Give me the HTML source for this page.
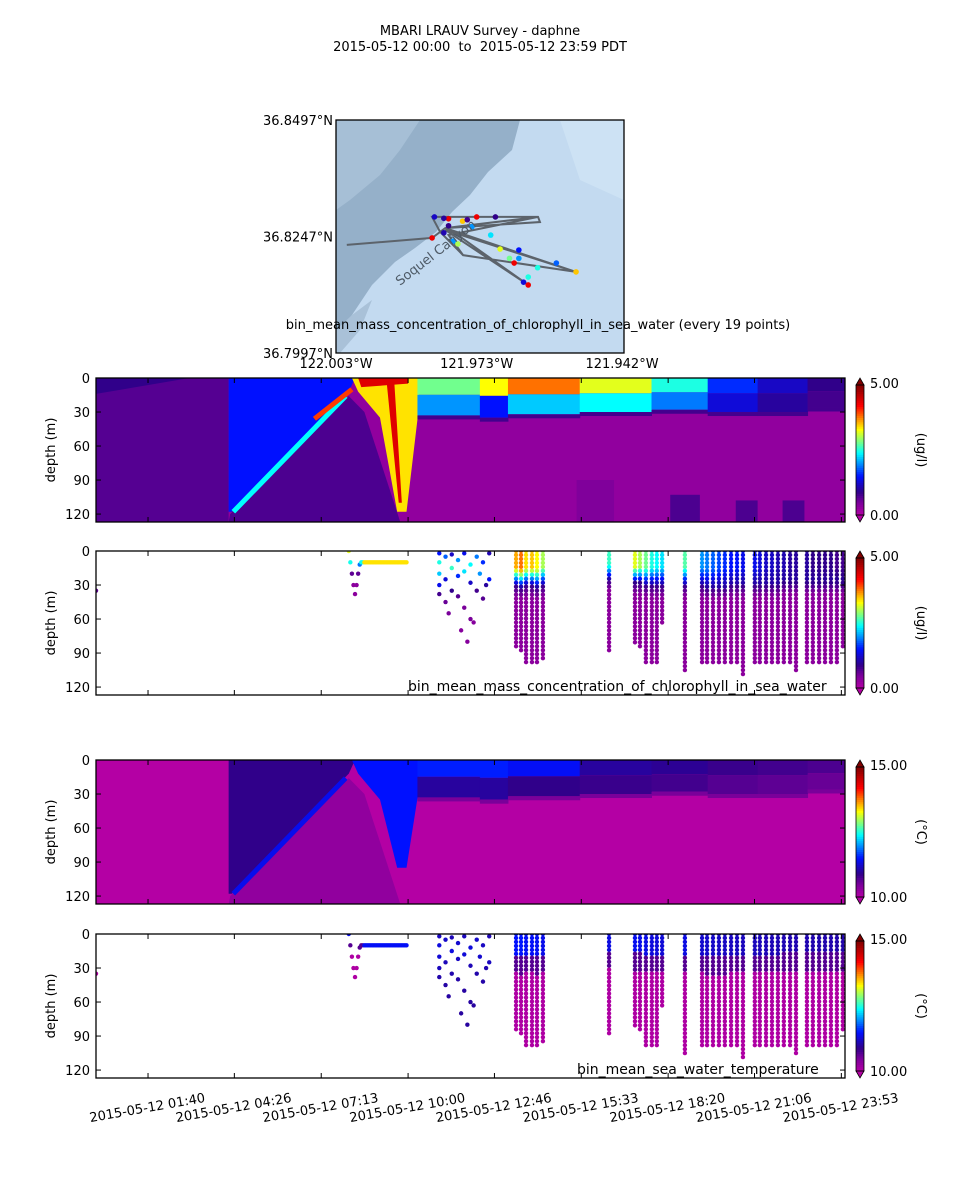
<!DOCTYPE html>
<html><head><meta charset="utf-8">
<style>
html,body{margin:0;padding:0;background:#fff;}
svg{display:block;font-family:"DejaVu Sans","Liberation Sans",sans-serif;}
</style></head>
<body>
<svg id="fig" width="960" height="1200" viewBox="0 0 960 1200" xmlns="http://www.w3.org/2000/svg">
<rect width="960" height="1200" fill="#fff"/>
<text x="480" y="35" font-size="13" text-anchor="middle">MBARI LRAUV Survey - daphne</text>
<text x="480" y="51" font-size="13" text-anchor="middle" style="white-space:pre">2015-05-12 00:00  to  2015-05-12 23:59 PDT</text>
<g id="map"></g>
<g id="p1"></g>
<g id="p2"></g>
<g id="p3"></g>
<g id="p4"></g>
<g id="xax"></g>
</svg>
<script>
// ---------- data ----------
const tickHours = [1.667, 4.433, 7.217, 10.0, 12.767, 15.55, 18.333, 21.1, 23.883];
const tickLabels = ["2015-05-12 01:40","2015-05-12 04:26","2015-05-12 07:13","2015-05-12 10:00","2015-05-12 12:46","2015-05-12 15:33","2015-05-12 18:20","2015-05-12 21:06","2015-05-12 23:53"];
const depthTicks = [0,30,60,90,120];
const profileHours = [13.46,13.62,13.78,13.97,14.13,14.32,16.44,17.27,17.43,17.62,17.81,17.97,18.14,18.87,19.42,19.58,19.77,19.96,20.15,20.35,20.54,20.73,21.11,21.27,21.47,21.66,21.85,22.04,22.24,22.43,22.78,22.97,23.17,23.36,23.55,23.74,23.93];
const profileMaxDepth = [85,90,100,100,100,97,89,82,85,100,100,100,65,108,100,100,100,100,100,100,100,110,100,100,100,100,100,100,100,108,100,100,100,100,100,100,85];
const profileSurfChl = [3.6,3.8,3.4,3.5,3.3,3.0,2.6,3.2,3.0,2.8,2.5,2.4,2.3,2.7,2.0,1.9,1.8,1.7,1.6,1.5,1.5,1.4,1.4,1.3,1.2,1.2,1.1,1.1,1.0,1.0,1.0,0.9,0.9,0.9,0.9,0.8,0.8];
const profileMld = [30,32,30,30,32,30,25,28,28,30,30,30,30,30,30,32,32,32,32,30,30,30,30,30,30,30,30,28,28,28,28,28,28,28,28,28,28];
const scatHours = [11.0,11.0,11.0,11.0,11.0,11.2,11.2,11.2,11.4,11.4,11.4,11.6,11.6,11.6,11.8,11.8,11.8,12.0,12.0,12.0,12.2,12.2,12.4,12.4,12.6,12.6,11.3,11.7,12.1,12.5,12.3,11.9];
const scatDepth = [2,10,20,30,38,5,25,45,3,15,35,8,22,40,2,18,50,12,28,60,5,35,10,42,2,25,55,70,63,30,20,80];
const scatChl = [1.5,2.5,2.2,1.4,0.8,1.8,1.3,0.6,1.2,2.6,0.9,2.0,1.6,0.7,1.4,2.3,0.5,2.4,1.2,0.5,1.9,0.8,1.6,0.7,1.1,1.5,0.5,0.4,0.4,1.0,2.0,0.4];
const yoyoHours = [8.1,8.15,8.2,8.25,8.3,8.35,8.4,8.45,8.5,8.55];
const yoyoDepth = [0,10,20,30,38,30,20,12,10,10];
// contour segments after 10.3 h
const segStart = [10.3,12.3,13.2,15.5,17.8,19.6,21.2,22.8];
const segEnd   = [12.3,13.2,15.5,17.8,19.6,21.2,22.8,24.0];
const segMld   = [33,35,32,30,28,30,30,26];
const segTopChl= [2.8,3.3,3.8,3.2,2.5,1.6,1.2,0.9];
const segMidChl= [2.0,1.5,2.2,2.4,1.9,1.3,1.0,0.8];
const segTopT  = [11.55,11.55,11.45,11.0,10.95,10.85,10.8,10.75];
const segMidT  = [11.0,11.0,10.9,10.85,10.8,10.7,10.65,10.6];
const blockStart = [15.4,18.4,20.5,22.0];
const blockEnd   = [16.6,19.35,21.2,22.7];
const blockTop   = [90,103,108,108];
const blockChl   = [0.45,0.75,0.75,0.75];
// map
const trackLon = [-122.0007,-121.9825,-121.9797,-121.9599,-121.9595,-121.9797,-121.9518,-121.9780,-121.9620,-121.9797,-121.9518,-121.9759,-121.9808,-121.9825,-121.9599,-121.9790,-121.9759,-121.9518];
const trackLat = [36.8229,36.8244,36.8265,36.8289,36.8278,36.8265,36.8171,36.8257,36.8143,36.8261,36.8171,36.8207,36.8257,36.8289,36.8289,36.8250,36.8207,36.8171];
const dotLon = [-121.9825,-121.9790,-121.9760,-121.9740,-121.9700,-121.9680,-121.9640,-121.9620,-121.9780,-121.9770,-121.9730,-121.9690,-121.9660,-121.9650,-121.9640,-121.9600,-121.9560,-121.9518,-121.9630,-121.9620,-121.9800,-121.9790,-121.9800,-121.9750,-121.9820];
const dotLat = [36.8244,36.8285,36.8280,36.8268,36.8250,36.8220,36.8200,36.8160,36.8237,36.8231,36.8289,36.8289,36.8200,36.8190,36.8218,36.8180,36.8190,36.8171,36.8149,36.8143,36.8255,36.8270,36.8286,36.8283,36.8289];
const dotChl = [4.3,4.3,3.5,2.0,2.3,3.2,2.0,2.5,2.0,3.0,4.3,0.9,2.8,4.3,1.5,2.5,1.8,3.5,1.3,4.3,1.1,0.9,1.0,0.8,1.2];

// ---------- helpers ----------
const NS="http://www.w3.org/2000/svg";
function mk(parent,tag,attrs,txt){const e=document.createElementNS(NS,tag);for(const k in attrs)e.setAttribute(k,attrs[k]);if(txt!==undefined)e.textContent=txt;parent.appendChild(e);return e;}
const stops=[[0,[180,0,164]],[0.1,[122,0,154]],[0.18,[48,0,138]],[0.3,[0,16,255]],[0.48,[0,255,255]],[0.66,[255,255,0]],[0.84,[255,0,0]],[1,[128,0,0]]];
function cmap(t){t=Math.max(0,Math.min(1,t));for(let i=1;i<stops.length;i++){if(t<=stops[i][0]){const a=stops[i-1],b=stops[i];const f=(t-a[0])/(b[0]-a[0]);const c=a[1].map((v,j)=>Math.round(v+(b[1][j]-v)*f));return `rgb(${c[0]},${c[1]},${c[2]})`;}}return "rgb(128,0,0)";}
const cChl=v=>cmap(v/5), cT=v=>cmap((v-10)/5);
const X0=96,X1=845;
const xs=h=>X0+h/24*(X1-X0);
const PH=144, DMAX=127;
function ysF(y0){return d=>y0+d/DMAX*PH;}

function axesFrame(g,y0,unit,lo,hi){
  const ys=ysF(y0);
  depthTicks.forEach(d=>{
    const t=mk(g,'line',{x1:X0,x2:X0+5,y1:ys(d),y2:ys(d),stroke:'#000'});
    
    mk(g,'line',{x1:X1-5,x2:X1,y1:ys(d),y2:ys(d),stroke:'#000'});
    const l=mk(g,'text',{x:X0-6,y:ys(d)+5,'font-size':13,'text-anchor':'end'},String(d));
    
  });
  tickHours.forEach(h=>{mk(g,'line',{x1:xs(h),x2:xs(h),y1:y0,y2:y0+5,stroke:'#000'});mk(g,'line',{x1:xs(h),x2:xs(h),y1:y0+PH-5,y2:y0+PH,stroke:'#000'});});
  const f=mk(g,'rect',{x:X0,y:y0,width:X1-X0,height:PH,fill:'none',stroke:'#000','stroke-width':1.3});
  
  const yl=mk(g,'text',{x:0,y:0,'font-size':13,'text-anchor':'middle',transform:`translate(55,${y0+PH/2}) rotate(-90)`},'depth (m)');
  
  const cb=mk(g,'g',{});
  
  const cx=856,cw=8,top=y0+7,bot=y0+PH-7;
  for(let i=0;i<60;i++){const t0=i/60;mk(cb,'rect',{x:cx,y:bot-(i+1)/60*(bot-top),width:cw,height:(bot-top)/60+0.5,fill:cmap(t0+0.5/60)});}
  mk(cb,'polygon',{points:`${cx},${top} ${cx+cw},${top} ${cx+cw/2},${y0}`,fill:cmap(1),stroke:'#000','stroke-width':0.8});
  mk(cb,'polygon',{points:`${cx},${bot} ${cx+cw},${bot} ${cx+cw/2},${y0+PH}`,fill:cmap(0),stroke:'#000','stroke-width':0.8});
  mk(cb,'rect',{x:cx,y:top,width:cw,height:bot-top,fill:'none',stroke:'#000','stroke-width':0.8});
  mk(cb,'text',{x:870,y:y0+10,'font-size':13},hi);
  mk(cb,'text',{x:870,y:y0+PH-2,'font-size':13},lo);
  mk(cb,'text',{x:0,y:0,'font-size':13,'text-anchor':'middle',transform:`translate(917,${y0+PH/2}) rotate(90)`},unit);
}
function poly(g,ptsHD,ys,fill){return mk(g,'polygon',{points:ptsHD.map(p=>xs(p[0])+','+ys(p[1])).join(' '),fill:fill});}

// ---------- contour panels ----------
function contour(gid,y0,col,vals){
  const g=document.getElementById(gid);const ys=ysF(y0);
  const cl=mk(g,'clipPath',{id:gid+'c'});mk(cl,'rect',{x:X0,y:y0,width:X1-X0,height:PH});
  const c=mk(g,'g',{'clip-path':`url(#${gid}c)`});
  mk(c,'rect',{x:X0,y:y0,width:X1-X0,height:PH,fill:col(vals.bg)});
  poly(c,[[0,0],[4.25,0],[4.25,127],[0,127]],ys,col(vals.left));
  if(vals.leftTop!==undefined) poly(c,[[0,0],[3,0],[0,14]],ys,col(vals.leftTop));
  poly(c,[[4.25,127],[4.3,120],[8.1,16],[8.6,30],[9.75,127]],ys,col(vals.under));
  poly(c,[[4.25,0],[8.3,0],[8.1,12],[4.35,118],[4.25,118]],ys,col(vals.wedge));
  mk(c,'line',{x1:xs(4.4),y1:ys(118),x2:xs(8.0),y2:ys(16),stroke:col(vals.diag),'stroke-width':5});
  if(vals.diag2!==undefined) mk(c,'line',{x1:xs(7.0),y1:ys(36),x2:xs(8.2),y2:ys(10),stroke:col(vals.diag2),'stroke-width':5});
  poly(c,[[8.2,0],[10.35,0],[10.35,25],[9.95,vals.vDepth],[9.65,vals.vDepth],[9.1,35],[8.4,12]],ys,col(vals.v));
  if(vals.vStripe!==undefined){
    poly(c,[[9.3,0],[9.55,0],[9.8,110],[9.7,110]],ys,col(vals.vStripe));
    poly(c,[[8.4,0],[10.0,0],[10.0,5],[8.5,8]],ys,col(vals.vStripe));
  }
  segStart.forEach((s,i)=>{
    const e=segEnd[i],m=segMld[i];
    mk(c,'rect',{x:xs(s),y:ys(0),width:xs(e)-xs(s)+0.5,height:ys(m*0.45)-ys(0),fill:col(vals.segTop[i])});
    mk(c,'rect',{x:xs(s),y:ys(m*0.45),width:xs(e)-xs(s)+0.5,height:ys(m)-ys(m*0.45),fill:col(vals.segMid[i])});
    mk(c,'rect',{x:xs(s),y:ys(m),width:xs(e)-xs(s)+0.5,height:4,fill:col(vals.band)});
  });
  if(vals.blocks) blockStart.forEach((s,i)=>{
    const r=mk(c,'rect',{x:xs(s),y:ys(blockTop[i]),width:xs(blockEnd[i])-xs(s),height:ys(127)-ys(blockTop[i]),fill:col(blockChl[i])});
    
  });
  return g;
}
const g1=contour('p1',378,cChl,{bg:0.3,left:0.7,leftTop:0.9,under:0.75,wedge:1.5,diag:2.4,diag2:4.0,v:3.4,vStripe:4.4,vDepth:118,segTop:segTopChl,segMid:segMidChl,band:0.8,blocks:true});
axesFrame(g1,378,'(ug/l)','0.00','5.00');
const g3=contour('p3',760,cT,{bg:10.0,left:10.0,under:10.3,wedge:10.9,diag:11.4,v:11.5,vDepth:95,segTop:segTopT,segMid:segMidT,band:10.5,blocks:false});
axesFrame(g3,760,'(\u00B0C)','10.00','15.00');

// ---------- profile panels ----------
function profiles(gid,y0,colOf,label,lx){
  const g=document.getElementById(gid);const ys=ysF(y0);
  const cl=mk(g,'clipPath',{id:gid+'c'});mk(cl,'rect',{x:X0,y:y0,width:X1-X0,height:PH});
  const c=mk(g,'g',{'clip-path':`url(#${gid}c)`});
  function dot(h,d,col){const e=mk(c,'circle',{cx:xs(h),cy:ys(d),r:2.2,fill:col});}
  dot(0,35,colOf(0.5,35,30));
  yoyoHours.forEach((h,i)=>dot(h,yoyoDepth[i],colOf(yoyoDepth[i]<15?3.2:1.0,yoyoDepth[i],15)));
  for(let h=8.6;h<=10.0;h+=0.05) dot(h,10,colOf(3.4,10,30));
  scatHours.forEach((h,i)=>dot(h,scatDepth[i],colOf(scatChl[i],0,30)));
  profileHours.forEach((h,i)=>{
    for(let d=0;d<=profileMaxDepth[i];d+=3.5){dot(h,d,colOf(profileSurfChl[i],d,profileMld[i]));}
  });
  axesFrame(g,y0,gid==='p2'?'(ug/l)':'(\u00B0C)',gid==='p2'?'0.00':'10.00',gid==='p2'?'5.00':'15.00');
  const t=mk(g,'text',{x:lx,y:y0+PH-4,'font-size':14},label);
  
}
profiles('p2',551,(s,d,m)=>{let v=d<m*0.5?s:d<m?s-(s-1.0)*(d-m*0.5)/(m*0.5):d<m+10?0.9-(d-m)*0.05:0.35;return cChl(v);},'bin_mean_mass_concentration_of_chlorophyll_in_sea_water',408);
profiles('p4',934,(s,d,m)=>{let v=d<m*0.6?10.95+s*0.15:d<m+5?10.7:10.05;return cT(v);},'bin_mean_sea_water_temperature',577);

// ---------- time axis labels ----------
const xa=document.getElementById('xax');
tickHours.forEach((h,i)=>{
  const x=xs(h);
  const t=mk(xa,'text',{x:0,y:0,'font-size':13,'text-anchor':'middle',transform:`translate(${x},1112) rotate(-10)`},tickLabels[i]);
  
});

// ---------- map ----------
const mg=document.getElementById('map');
const MX0=336,MY0=120,MW=288,MH=233;
const LON0=-122.003,LON1=-121.942,LAT0=36.7997,LAT1=36.8497;
const mx=lon=>MX0+(lon-LON0)/(LON1-LON0)*(622-MX0);
const my=lat=>MY0+(LAT1-lat)/(LAT1-LAT0)*MH;
const mcl=mk(mg,'clipPath',{id:'mc'});mk(mcl,'rect',{x:MX0,y:MY0,width:MW,height:MH});
const mc=mk(mg,'g',{'clip-path':'url(#mc)'});
mk(mc,'rect',{x:MX0,y:MY0,width:MW,height:MH,fill:'#c3daf0'});
mk(mc,'polygon',{points:'336,120 520,120 512,150 488,172 470,195 452,212 436,232 415,248 395,262 372,285 352,315 336,335',fill:'#95b0c9'});
mk(mc,'polygon',{points:'336,120 420,120 400,150 380,175 350,200 336,210',fill:'#a6bfd6'});
mk(mc,'polygon',{points:'336,330 352,315 372,300 360,330 340,353 336,353',fill:'#a9c1d8'});
mk(mc,'polygon',{points:'560,120 624,120 624,200 580,180',fill:'#cde2f4'});
const tpts=trackLon.map((l,i)=>mx(l)+','+my(trackLat[i])).join(' ');
const tr=mk(mc,'polyline',{points:tpts,fill:'none',stroke:'#5c636b','stroke-width':2});

dotLon.forEach((l,i)=>{const e=mk(mc,'circle',{cx:mx(l),cy:my(dotLat[i]),r:2.8,fill:cChl(dotChl[i])});});
mk(mc,'text',{x:0,y:0,'font-size':13,fill:'#4e5a66',transform:'translate(400,286) rotate(-38)'},'Soquel Canyon');
mk(mg,'rect',{x:MX0,y:MY0,width:MW,height:MH,fill:'none',stroke:'#000','stroke-width':1.3});
[[36.8497,'36.8497\u00B0N'],[36.8247,'36.8247\u00B0N'],[36.7997,'36.7997\u00B0N']].forEach(a=>{
  const t=mk(mg,'text',{x:333,y:my(a[0])+5,'font-size':13,'text-anchor':'end'},a[1]);});
[[-122.003,'122.003\u00B0W'],[-121.973,'121.973\u00B0W'],[-121.942,'121.942\u00B0W']].forEach(a=>{
  const t=mk(mg,'text',{x:mx(a[0]),y:368,'font-size':13,'text-anchor':'middle'},a[1]);});
const mt=mk(mg,'text',{x:538,y:329,'font-size':13,'text-anchor':'middle'},'bin_mean_mass_concentration_of_chlorophyll_in_sea_water (every 19 points)');

</script>
</body></html>
